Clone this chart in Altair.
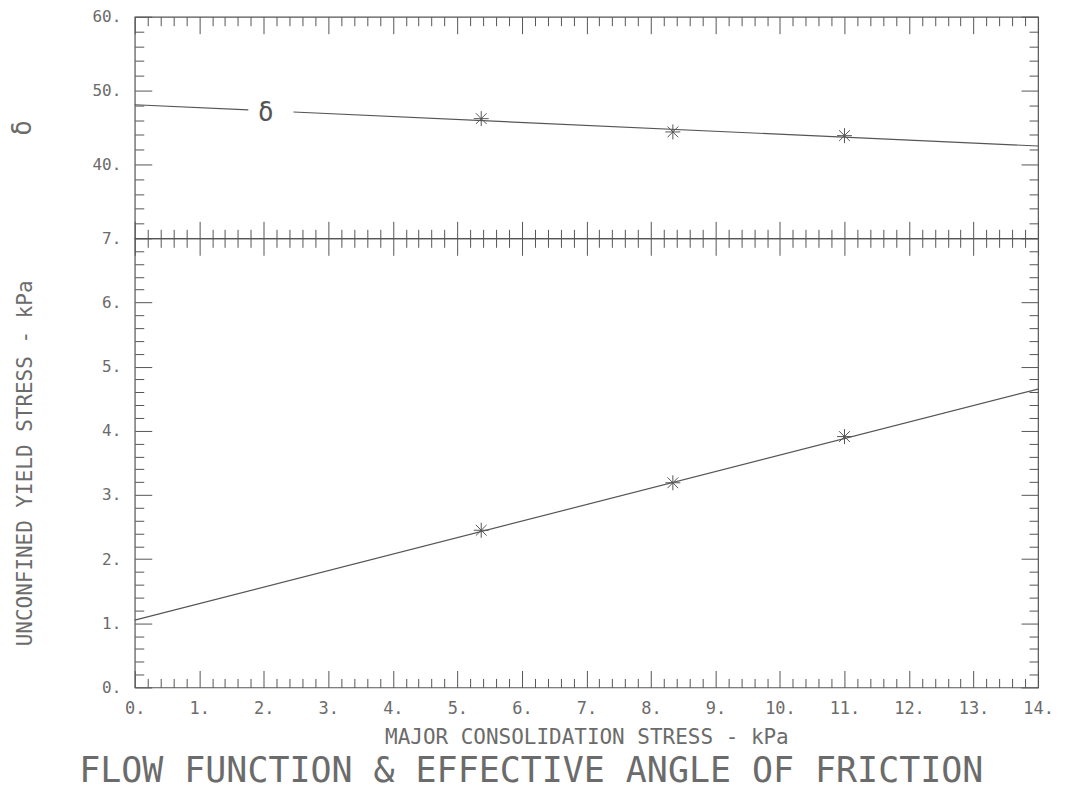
import altair as alt
import pandas as pd

# ---------------- data ----------------
stress_pts = [5.37, 8.34, 11.0]           # major consolidation stress, kPa
delta_pts = [46.2, 44.4, 43.9]            # effective angle of friction, deg
fc_pts = [2.45, 3.19, 3.91]               # unconfined yield stress, kPa

# fitted straight lines (end points), delta line broken around its label
delta_line_x = [0.0, 1.76, 2.46, 14.0]
delta_line_y = [48.08, 47.38, 47.10, 42.50]
delta_line_seg = ["a", "a", "b", "b"]
ff_line_x = [0.0, 14.0]
ff_line_y = [1.05, 4.65]

delta_label_x = [2.03]
delta_label_y = [47.0]

# tick positions
x_major = list(range(0, 15))
x_minor = [round(i * 0.2, 1) for i in range(71) if i % 5 != 0]
d_major = [40, 50, 60]
d_minor = [v for v in range(32, 60, 2) if v % 10 != 0]
f_major = list(range(0, 8))
f_minor = [round(i * 0.2, 1) for i in range(36) if i % 5 != 0]

# ---------------- styling ----------------
FONT = "DejaVu Sans Mono"
LC = "#555555"
TC = "#6b6b6b"
MAJ = 17
MIN = 9
STAR = "M0,-1L0,1M-1,0L1,0M-0.72,-0.72L0.72,0.72M-0.72,0.72L0.72,-0.72"
W = 905


def ax(orient, values, size, **kw):
    base = dict(orient=orient, values=values, tickSize=size, offset=-size,
                domain=False, grid=False, labels=False, title=None,
                tickColor=LC, tickWidth=1)
    base.update(kw)
    return alt.Axis(**base)


xs = alt.Scale(domain=[0, 14], nice=False, zero=False)

# ---------------- top panel: delta ----------------
d_line = pd.DataFrame({"x": delta_line_x, "y": delta_line_y, "seg": delta_line_seg})
d_pts = pd.DataFrame({"x": stress_pts, "y": delta_pts})
d_lab = pd.DataFrame({"x": delta_label_x, "y": delta_label_y, "t": ["δ"]})
ds = alt.Scale(domain=[30, 60], nice=False, zero=False)

t1 = alt.Chart(d_line).mark_line(color=LC, strokeWidth=1.2).encode(
    x=alt.X("x:Q", scale=xs, axis=ax("bottom", x_major, MAJ)),
    y=alt.Y("y:Q", scale=ds, axis=ax(
        "left", d_major, MAJ, labels=True, labelExpr="datum.label + '.'",
        labelPadding=14, title="δ", titleFontSize=26, titlePadding=57)),
    detail="seg:N",
)
t2 = alt.Chart(d_pts).mark_point(shape=STAR, size=225, filled=False, color=LC,
                                 strokeWidth=1, opacity=1).encode(
    x=alt.X("x:Q", scale=xs, axis=ax("bottom", x_minor, MIN)),
    y=alt.Y("y:Q", scale=ds, axis=ax("left", d_minor, MIN)),
)
t3 = alt.Chart(d_lab).mark_text(font=FONT, fontSize=26, color=LC,
                                baseline="middle", align="center").encode(
    x=alt.X("x:Q", scale=xs, axis=ax("top", x_major, MAJ)),
    y=alt.Y("y:Q", scale=ds, axis=ax("right", d_major, MAJ)),
    text="t:N",
)
t4 = alt.Chart(d_pts).mark_point(opacity=0).encode(
    x=alt.X("x:Q", scale=xs, axis=ax("top", x_minor, MIN)),
    y=alt.Y("y:Q", scale=ds, axis=ax("right", d_minor, MIN)),
)
top = alt.layer(t1, t2, t3, t4).resolve_axis(x="independent", y="independent").properties(
    width=W, height=222)

# ---------------- bottom panel: flow function ----------------
f_line = pd.DataFrame({"x": ff_line_x, "y": ff_line_y})
f_pts = pd.DataFrame({"x": stress_pts, "y": fc_pts})
fs = alt.Scale(domain=[0, 7], nice=False, zero=False)

b1 = alt.Chart(f_line).mark_line(color=LC, strokeWidth=1.2).encode(
    x=alt.X("x:Q", scale=xs, axis=ax(
        "bottom", x_major, MAJ, labels=True, labelExpr="datum.label + '.'",
        labelPadding=13, labelFlush=False, labelFontSize=17,
        title="MAJOR CONSOLIDATION STRESS - kPa", titleFontSize=21, titlePadding=10)),
    y=alt.Y("y:Q", scale=fs, axis=ax(
        "left", f_major, MAJ, labels=True, labelExpr="datum.label + '.'",
        labelPadding=14, title="UNCONFINED YIELD STRESS - kPa",
        titleFontSize=21, titlePadding=66)),
)
b2 = alt.Chart(f_pts).mark_point(shape=STAR, size=225, filled=False, color=LC,
                                 strokeWidth=1, opacity=1).encode(
    x=alt.X("x:Q", scale=xs, axis=ax("bottom", x_minor, MIN)),
    y=alt.Y("y:Q", scale=fs, axis=ax("left", f_minor, MIN)),
)
b3 = alt.Chart(f_pts).mark_point(opacity=0).encode(
    x=alt.X("x:Q", scale=xs, axis=ax("top", x_major, MAJ)),
    y=alt.Y("y:Q", scale=fs, axis=ax("right", f_major, MAJ)),
)
b4 = alt.Chart(f_pts).mark_point(opacity=0).encode(
    x=alt.X("x:Q", scale=xs, axis=ax("top", x_minor, MIN)),
    y=alt.Y("y:Q", scale=fs, axis=ax("right", f_minor, MIN)),
)
bottom = alt.layer(b1, b2, b3, b4).resolve_axis(x="independent", y="independent").properties(
    width=W, height=450)

chart = alt.vconcat(top, bottom, spacing=0, bounds="flush").properties(
    title=alt.TitleParams(
        "FLOW FUNCTION & EFFECTIVE ANGLE OF FRICTION",
        orient="bottom", anchor="middle", font=FONT, fontSize=35,
        fontWeight="normal", color=TC, offset=6),
    padding={"left": 0, "top": -1, "right": 5, "bottom": 0},
).configure_axis(
    labelFont=FONT, labelFontSize=16, labelColor=TC,
    titleFont=FONT, titleFontWeight="normal", titleColor=TC,
    domain=False, grid=False,
).configure_view(stroke=LC, strokeWidth=1.2)

chart.save("out.html", embed_options={"renderer": "svg", "actions": False})
